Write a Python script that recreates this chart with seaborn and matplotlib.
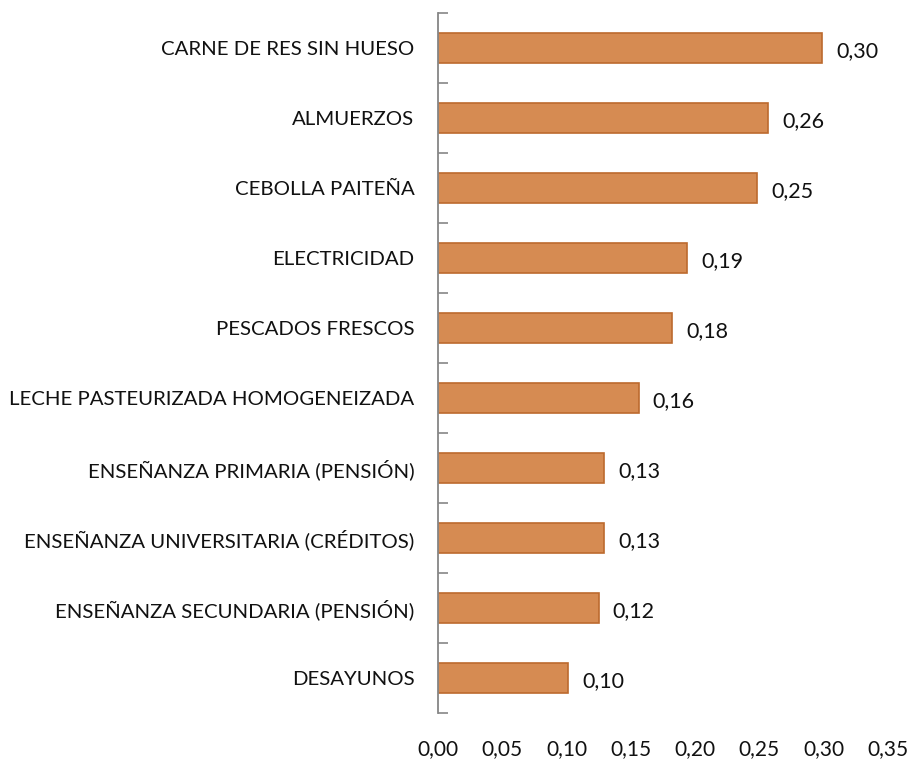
import pandas as pd
import seaborn as sns
import matplotlib.pyplot as plt
from matplotlib.ticker import FuncFormatter, MultipleLocator, FixedLocator

# datos
categorias = ['CARNE DE RES SIN HUESO', 'ALMUERZOS', 'CEBOLLA PAITEÑA', 'ELECTRICIDAD',
              'PESCADOS FRESCOS', 'LECHE PASTEURIZADA HOMOGENEIZADA',
              'ENSEÑANZA PRIMARIA (PENSIÓN)', 'ENSEÑANZA UNIVERSITARIA (CRÉDITOS)',
              'ENSEÑANZA SECUNDARIA (PENSIÓN)', 'DESAYUNOS']
valores = [0.299, 0.257, 0.248, 0.194, 0.182, 0.156, 0.129, 0.129, 0.125, 0.101]
etiquetas = ['0,30', '0,26', '0,25', '0,19', '0,18', '0,16', '0,13', '0,13', '0,12', '0,10']

df = pd.DataFrame({'categoria': categorias, 'valor': valores})

sns.set_theme(style='white')
plt.rcParams['font.family'] = ['Lato', 'DejaVu Sans']

fig = plt.figure(figsize=(9.1, 7.65), dpi=100)
ax = fig.add_axes([0.4813, 0.068, 0.4945, 0.915])

sns.barplot(data=df, x='valor', y='categoria', orient='h', color='#D68B52',
            edgecolor='#BC6A2E', linewidth=1.2, width=0.42, saturation=1, ax=ax)

# etiquetas de valores
for i, (v, t) in enumerate(zip(valores, etiquetas)):
    ax.text(v + 0.011, i + 0.05, t, va='center', ha='left', fontsize=15.5, color='#111111')

ax.set_xlim(0, 0.35)
ax.set_ylim(len(categorias) - 0.5, -0.5)
ax.xaxis.set_major_locator(MultipleLocator(0.05))
ax.xaxis.set_major_formatter(FuncFormatter(lambda x, p: f'{x:.2f}'.replace('.', ',')))
ax.set_xlabel('')
ax.set_ylabel('')

for s in ['top', 'right', 'bottom']:
    ax.spines[s].set_visible(False)
ax.spines['left'].set_color('#868686')
ax.spines['left'].set_linewidth(1.3)

ax.tick_params(axis='x', length=0, labelsize=15, pad=19, colors='#111111')
ax.yaxis.set_minor_locator(FixedLocator([i - 0.5 for i in range(len(categorias) + 1)]))
ax.tick_params(axis='y', which='both', left=True, direction='in', width=1.2, color='#868686')
ax.tick_params(axis='y', which='major', length=5, labelsize=14.7, pad=17, labelcolor='#111111')
ax.tick_params(axis='y', which='minor', length=7)
for t in ax.yaxis.get_major_ticks():
    t.tick1line.set_zorder(5)

fig.savefig('out.png', dpi=100)
